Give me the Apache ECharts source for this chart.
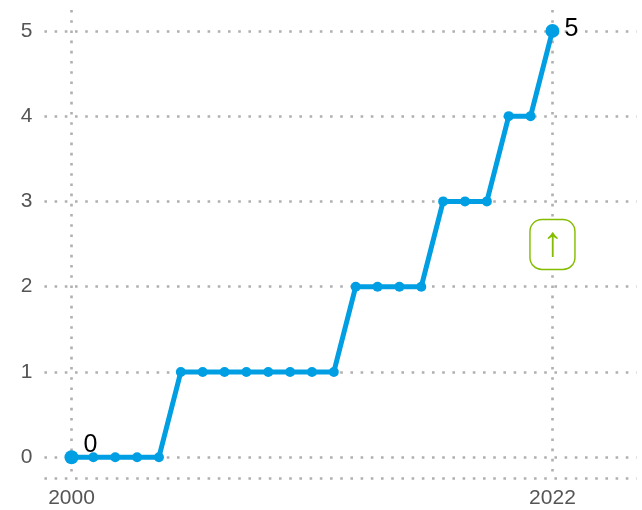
<!DOCTYPE html>
<html><head><meta charset="utf-8">
<style>html,body{margin:0;padding:0;background:#fff}#c{width:642px;height:510px}</style>
<script src="https://cdn.jsdelivr.net/npm/echarts@6/dist/echarts.min.js"></script>
</head><body><div id="c"></div>
<script>
const years = [2000,2001,2002,2003,2004,2005,2006,2007,2008,2009,2010,2011,2012,2013,2014,2015,2016,2017,2018,2019,2020,2021,2022];
const values = [0,0,0,0,0,1,1,1,1,1,1,1,1,2,2,2,2,3,3,3,4,4,5];
const xTicks = [2000,2022];
const yTicks = [0,1,2,3,4,5];
const arrowPoint = [2022.0,2.495];

const dotted = {color:'#b0b0b0',width:2.6,type:[2.6,7.6],cap:'butt'};
const points = years.map((y,i)=>{
  const isFirst = i===0, isLast = i===years.length-1;
  if(!isFirst && !isLast) return [y,values[i]];
  return {
    value:[y,values[i]],
    symbolSize:14,
    label:{show:true,formatter:String(values[i]),color:'#000',fontSize:25,
      fontFamily:'Liberation Sans',position:isFirst?[19,-18]:[19,-7]}
  };
});
const chart = echarts.init(document.getElementById('c'),null,{renderer:'canvas'});
chart.setOption({
  animation:false,
  backgroundColor:'#fff',
  grid:{left:44.4,right:5.6,top:10,bottom:31.5,containLabel:false},
  xAxis:{type:'value',min:1998.76,max:2025.84,
    axisLine:{show:true,onZero:false,lineStyle:dotted},
    axisTick:{show:false,customValues:xTicks},
    axisLabel:{customValues:xTicks,color:'#555',fontSize:21,margin:9,fontFamily:'Liberation Sans',formatter:v=>String(v),showMinLabel:true,showMaxLabel:true},
    splitLine:{show:true,lineStyle:dotted}},
  yAxis:{type:'value',min:-0.25,max:5.245,
    axisLine:{show:false},
    axisTick:{show:false,customValues:yTicks},
    axisLabel:{customValues:yTicks,color:'#555',fontSize:21,margin:12,padding:[4,0,0,0],fontFamily:'Liberation Sans'},
    splitLine:{show:true,lineStyle:dotted}},
  series:[{type:'line',data:points,color:'#009fe3',symbol:'circle',symbolSize:10,
    showAllSymbol:true,lineStyle:{width:5,color:'#009fe3',join:'round'},itemStyle:{color:'#009fe3'},
    z:3,
    markPoint:{silent:true,
      data:[{coord:arrowPoint,
        symbol:'path://M12 0H33A12 12 0 0 1 45 12V38A12 12 0 0 1 33 50H12A12 12 0 0 1 0 38V12A12 12 0 0 1 12 0Z',
        symbolSize:[45,50],
        itemStyle:{color:'#fff',borderColor:'#84bd00',borderWidth:1.5},
        label:{show:true,position:'inside',formatter:'↑',color:'#84bd00',fontSize:42,fontFamily:'Liberation Sans',offset:[0,0]}
      }]}
  }]
});
</script></body></html>
